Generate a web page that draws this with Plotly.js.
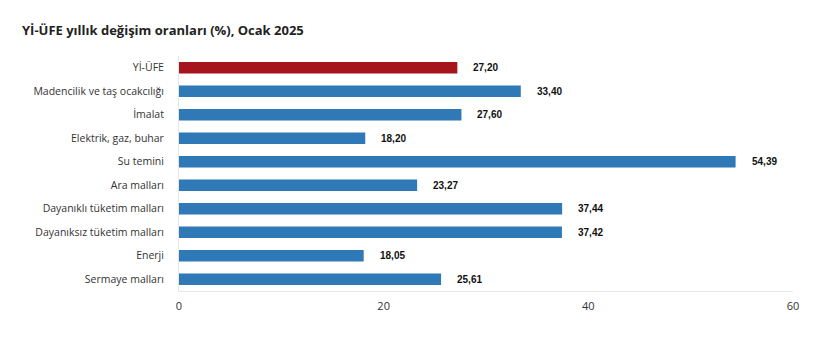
<!DOCTYPE html>
<html>
<head>
<meta charset="utf-8">
<script src="https://cdn.plot.ly/plotly-3.0.1.min.js"></script>
<style>html,body{margin:0;padding:0;background:#fff;}#chart{width:832px;height:361px;}</style>
</head>
<body>
<div id="chart"></div>
<script>
const categories = ["Yİ-ÜFE","Madencilik ve taş ocakcılığı","İmalat","Elektrik, gaz, buhar","Su temini","Ara malları","Dayanıklı tüketim malları","Dayanıksız tüketim malları","Enerji","Sermaye malları"];
const values = [27.20,33.40,27.60,18.20,54.39,23.27,37.44,37.42,18.05,25.61];
const valueLabels = ["27,20","33,40","27,60","18,20","54,39","23,27","37,44","37,42","18,05","25,61"];
const tickVals = [0,20,40,60];
const tickText = ["0","20","40","60"];

const colors = categories.map((c,i)=> i===0 ? "#A6141C" : "#2F79B6");

const trace = {
  type: "bar",
  orientation: "h",
  x: values,
  y: categories,
  marker: {color: colors, line: {width: 0}},
  hoverinfo: "none"
};

const annotations = values.map((v,i)=>({
  x: v, y: categories[i], xref: "x", yref: "y",
  text: "<b>" + valueLabels[i] + "</b>",
  showarrow: false, xanchor: "left", xshift: 14,
  font: {family: "Liberation Sans, Arial, sans-serif", size: 10, color: "#111"}
}));

const layout = {
  width: 832, height: 361,
  margin: {l: 179, r: 39, t: 56, b: 70},
  paper_bgcolor: "#fff", plot_bgcolor: "#fff",
  title: {text: "<b>Yİ-ÜFE yıllık değişim oranları (%), Ocak 2025</b>", x: 22/832, xanchor: "left", y: 1 - 30/361, yanchor: "middle",
    font: {family: "Open Sans, Noto Sans, sans-serif", size: 13, color: "#222"}},
  bargap: 0.52,
  showlegend: false,
  xaxis: {range: [0,60], tickvals: tickVals, ticktext: tickText, showgrid: false, zeroline: false,
    showline: true, linecolor: "#e6e6e6", linewidth: 1, ticks: "", ticklabelstandoff: 5,
    tickfont: {family: "Open Sans, Noto Sans, sans-serif", size: 11, color: "#333"}, fixedrange: true},
  yaxis: {autorange: "reversed", showgrid: false, zeroline: false, showline: true, linecolor: "#e6e6e6", linewidth: 1,
    ticks: "", ticklabelstandoff: 12,
    tickfont: {family: "Open Sans, Noto Sans, sans-serif", size: 10.5, color: "#333"}, fixedrange: true},
  annotations: annotations
};

Plotly.newPlot("chart", [trace], layout, {displayModeBar: false, staticPlot: true});
</script>
</body>
</html>
